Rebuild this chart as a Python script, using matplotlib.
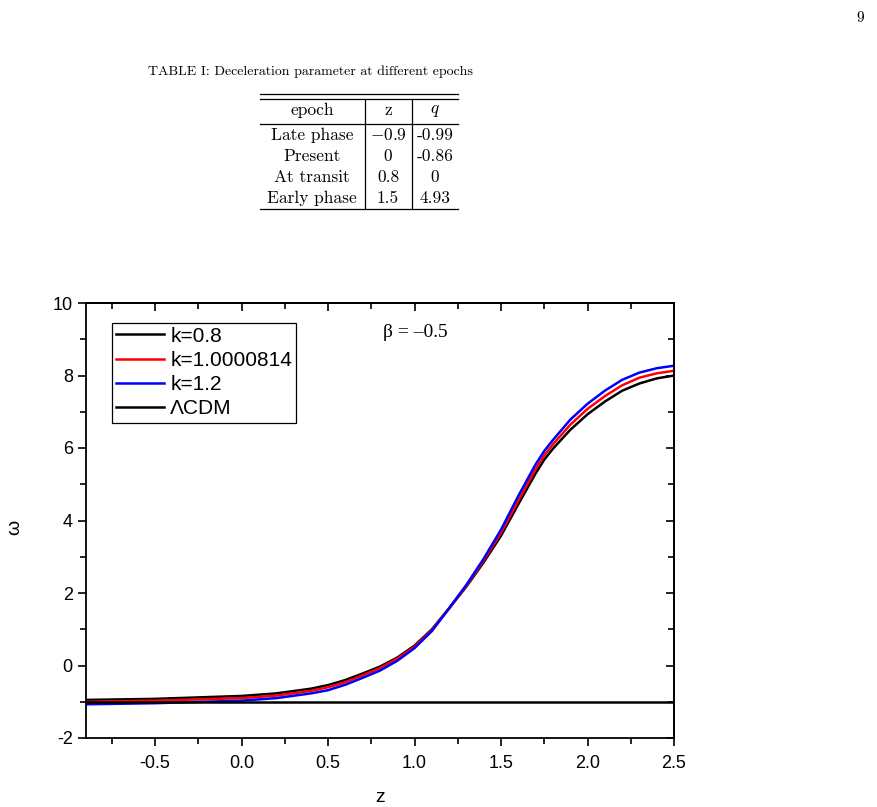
import matplotlib
matplotlib.use("Agg")
import matplotlib.pyplot as plt
from matplotlib.lines import Line2D
from matplotlib.ticker import MultipleLocator, FormatStrFormatter

plt.rcParams['axes.unicode_minus'] = False
plt.rcParams['mathtext.fontset'] = 'cm'

# ---------------- data ----------------
z = [-0.9, -0.5, 0.0, 0.2, 0.4, 0.5, 0.6, 0.7, 0.8, 0.9, 1.0, 1.1, 1.2, 1.3,
     1.4, 1.5, 1.6, 1.7, 1.75, 1.8, 1.9, 2.0, 2.1, 2.2, 2.3, 2.4, 2.5]
w_k08 = [-0.95, -0.92, -0.84, -0.77, -0.64, -0.54, -0.40, -0.22, -0.03, 0.22,
         0.55, 1.00, 1.58, 2.18, 2.85, 3.58, 4.45, 5.30, 5.68, 5.98, 6.50,
         6.93, 7.28, 7.58, 7.78, 7.92, 8.00]
w_k1 = [-1.00, -0.97, -0.90, -0.83, -0.70, -0.60, -0.46, -0.27, -0.07, 0.19,
        0.52, 0.98, 1.58, 2.20, 2.90, 3.66, 4.55, 5.42, 5.80, 6.10, 6.64,
        7.08, 7.43, 7.73, 7.94, 8.06, 8.13]
w_k12 = [-1.07, -1.04, -0.97, -0.90, -0.77, -0.68, -0.53, -0.34, -0.14, 0.13,
         0.48, 0.95, 1.58, 2.23, 2.95, 3.75, 4.68, 5.55, 5.92, 6.22, 6.78,
         7.22, 7.58, 7.88, 8.08, 8.20, 8.27]
z_lcdm = [-0.9, 2.5]
w_lcdm = [-1.0, -1.0]

labels = ["k=0.8", "k=1.0000814", "k=1.2", "ΛCDM"]
colors = ["black", "red", "blue", "black"]

table_cols = ["epoch", "z", "$q$"]
table_epoch = ["Late phase", "Present", "At transit", "Early phase"]
table_z = ["$-0.9$", "0", "0.8", "1.5"]
table_q = ["-0.99", "-0.86", "0", "4.93"]

W, H = 877, 807
fig = plt.figure(figsize=(W / 100, H / 100), dpi=100)

def fx(px):
    return px / W

def fy(py):
    return 1 - py / H

# ---------------- page header & table ----------------
serif = 'cmr10'
fig.text(fx(860), fy(18), "9", fontsize=11, family=serif, ha='center', va='center')
fig.text(fx(148), fy(72), "TABLE I: Deceleration parameter at different epochs",
         fontsize=10, family=serif, ha='left', va='center')

for yy in (93.5, 98.5, 124, 209):
    fig.add_artist(Line2D([fx(260), fx(458)], [fy(yy), fy(yy)], color='black', lw=0.9))
for xx in (365, 412):
    fig.add_artist(Line2D([fx(xx), fx(xx)], [fy(99), fy(209)], color='black', lw=0.9))

tfs = 12.5
col_x = [312, 388, 435]
fig.text(fx(col_x[0]), fy(110), table_cols[0], fontsize=tfs, family=serif, ha='center', va='center')
fig.text(fx(col_x[1]), fy(110), table_cols[1], fontsize=tfs, family=serif, ha='center', va='center')
fig.text(fx(col_x[2]), fy(110), table_cols[2], fontsize=tfs, ha='center', va='center')
row_y = [135, 156, 177, 198]
for i in range(4):
    fig.text(fx(col_x[0]), fy(row_y[i]), table_epoch[i], fontsize=tfs, family=serif, ha='center', va='center')
    fig.text(fx(col_x[1]), fy(row_y[i]), table_z[i], fontsize=tfs, family=serif, ha='center', va='center')
    fig.text(fx(col_x[2]), fy(row_y[i]), table_q[i], fontsize=tfs, family=serif, ha='center', va='center')

# ---------------- chart ----------------
sans = 'Liberation Sans'
ax = fig.add_axes([fx(86), fy(738), fx(674) - fx(86), fy(303) - fy(738)])

series = [w_k08, w_k1, w_k12]
for s, lab, col in zip(series, labels[:3], colors[:3]):
    ax.plot(z, s, color=col, lw=1.8, label=lab)
ax.plot(z_lcdm, w_lcdm, color=colors[3], lw=1.8, label=labels[3])

ax.set_xlim(-0.9, 2.5)
ax.set_ylim(-2, 10)
ax.xaxis.set_major_locator(MultipleLocator(0.5))
ax.xaxis.set_minor_locator(MultipleLocator(0.25))
ax.yaxis.set_major_locator(MultipleLocator(2))
ax.yaxis.set_minor_locator(MultipleLocator(1))
ax.xaxis.set_major_formatter(FormatStrFormatter('%.1f'))
ax.yaxis.set_major_formatter(FormatStrFormatter('%d'))
ax.tick_params(which='both', direction='out', top=False, right=False, width=1.2,
               labelsize=13)
ax.tick_params(axis='x', which='major', pad=6)
ax.tick_params(which='major', length=6)
ax.tick_params(which='minor', length=4)
for lab in ax.get_xticklabels() + ax.get_yticklabels():
    lab.set_family(sans)
for sp in ax.spines.values():
    sp.set_linewidth(1.3)

secx = ax.secondary_xaxis('top')
secx.xaxis.set_major_locator(MultipleLocator(0.5))
secx.xaxis.set_minor_locator(MultipleLocator(0.25))
secx.tick_params(which='both', direction='in', labeltop=False, width=1.2)
secx.tick_params(which='major', length=6)
secx.tick_params(which='minor', length=4)
secx.spines['top'].set_linewidth(1.3)

secy = ax.secondary_yaxis('right')
secy.yaxis.set_major_locator(MultipleLocator(2))
secy.yaxis.set_minor_locator(MultipleLocator(1))
secy.tick_params(which='both', direction='in', labelright=False, width=1.2)
secy.tick_params(which='major', length=6)
secy.tick_params(which='minor', length=4)
secy.spines['right'].set_linewidth(1.3)

ax.set_xlabel("z", fontsize=14, family=sans)
ax.xaxis.set_label_coords(0.5, -0.118)
ax.set_ylabel("ω", fontsize=14, family=sans)
ax.yaxis.set_label_coords(-0.106, 0.485)

ax.text(0.505, 0.933, "β = –0.5", transform=ax.transAxes, fontsize=14,
        family='Liberation Serif', ha='left', va='center')

leg = ax.legend(loc='upper left', bbox_to_anchor=(0.044, 0.955), borderaxespad=0,
                prop={'family': sans, 'size': 15}, handlelength=2.3,
                handletextpad=0.3, labelspacing=0.25, borderpad=0.2,
                fancybox=False, framealpha=1, edgecolor='black')
leg.get_frame().set_linewidth(0.9)

fig.savefig("out.png", dpi=100)
